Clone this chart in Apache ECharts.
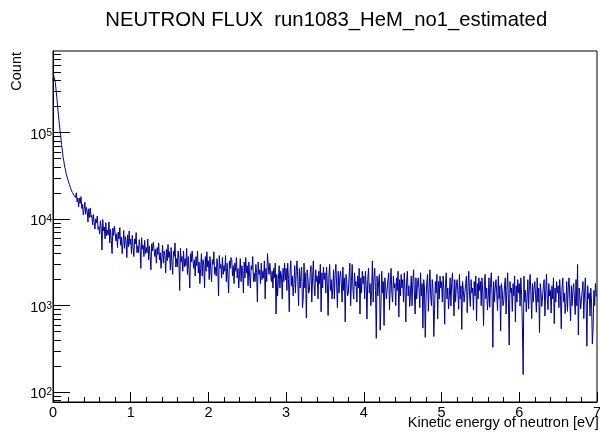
<!DOCTYPE html>
<html><head><meta charset="utf-8">
<script src="https://cdn.jsdelivr.net/npm/echarts@6/dist/echarts.min.js"></script>
<style>html,body{margin:0;padding:0;background:#fff}#c{width:600px;height:434px}</style>
</head><body><div id="c"></div>
<script>
const titleText = 'NEUTRON FLUX  run1083_HeM_no1_estimated';
const xTitle = 'Kinetic energy of neutron [eV]';
const yTitle = 'Count';
const binWidth = 0.01;
const xMin = 0, xMax = 7;
const yMin = 77, yMax = 8.8e5;
const yMajorTicks = [100, 1000, 10000, 100000];
const yMinorTicks = [80, 90,
  200, 300, 400, 500, 600, 700, 800, 900,
  2000, 3000, 4000, 5000, 6000, 7000, 8000, 9000,
  20000, 30000, 40000, 50000, 60000, 70000, 80000, 90000,
  200000, 300000, 400000, 500000, 600000, 700000, 800000];
const counts = [
  400000, 452000, 438000, 381000, 309000, 252000, 198000, 161000, 129000, 107000,
  91000, 73000, 63000, 52000, 46500, 40200, 37800, 33100, 32200, 29000,
  28400, 25300, 25100, 22400, 22900, 20300, 21000, 18900, 19400, 17800,
  20200, 15900, 17600, 13900, 17600, 15200, 18200, 13300, 14800, 11200,
  13000, 15700, 11400, 13700, 12400, 9300, 13200, 10500, 13500, 10500,
  11100, 8600, 11300, 9100, 7700, 10100, 9100, 10900, 7600, 8200,
  6800, 9600, 7900, 4400, 9900, 7300, 8100, 5900, 9100, 6400,
  7500, 6600, 9300, 5300, 7700, 5700, 4000, 7900, 6500, 8300,
  7900, 5600, 6800, 4700, 7100, 5900, 8000, 5000, 6200, 4000,
  5300, 7400, 4600, 6300, 5600, 3600, 6600, 4800, 7300, 5100,
  5900, 4000, 6500, 4800, 3700, 5900, 5200, 7000, 4100, 4900,
  4100, 5800, 4800, 2700, 6100, 4500, 5000, 3700, 5700, 4000,
  4700, 4100, 5900, 3400, 4900, 3700, 2600, 5200, 4300, 5400,
  5200, 3700, 4500, 3100, 4700, 3900, 5300, 3400, 4100, 2700,
  3600, 5000, 3100, 4300, 3800, 2400, 4500, 3300, 5100, 3600,
  4200, 2600, 4700, 3200, 2300, 4300, 3700, 5300, 2800, 3500,
  2800, 4300, 3400, 1500, 4600, 3200, 3700, 2500, 4300, 2800,
  3500, 2900, 4600, 2300, 3700, 2600, 1600, 4000, 3200, 4300,
  4100, 2700, 3400, 2200, 3700, 2900, 4300, 2400, 3200, 1800,
  2700, 4000, 2200, 3400, 2900, 1600, 3700, 2500, 4200, 2800,
  3300, 2000, 3700, 2600, 1900, 3400, 3000, 4200, 2300, 2800,
  2200, 3500, 2800, 1300, 3800, 2700, 3000, 2100, 3600, 2300,
  2900, 2500, 3800, 1900, 3100, 2200, 1400, 3300, 2700, 3600,
  3400, 2200, 2900, 1800, 3100, 2500, 3600, 2100, 2700, 1600,
  2300, 3500, 1900, 2900, 2500, 1400, 3200, 2100, 3600, 2400,
  2900, 1700, 3200, 2200, 1600, 2900, 2600, 3700, 1900, 2400,
  1900, 3000, 2400, 1100, 3200, 2300, 2600, 1800, 3100, 2000,
  2500, 2100, 3300, 1200, 2700, 1900, 4000, 2900, 2300, 3100,
  3000, 1900, 2500, 1600, 2700, 2100, 3100, 800, 2300, 1300,
  2000, 2900, 1600, 2500, 2200, 1200, 2700, 1900, 3100, 2000,
  2700, 1500, 3100, 2000, 850, 2400, 3300, 1700, 2200, 1300,
  1800, 2900, 1400, 2500, 3300, 1900, 1000, 2700, 1600, 2300,
  2800, 950, 1200, 3100, 1600, 2400, 720, 2600, 2100, 1400,
  1500, 2400, 2900, 1100, 2100, 3300, 1700, 1300, 2600, 1900,
  2200, 1200, 2500, 1800, 3000, 850, 2400, 1600, 2800, 2000,
  2400, 1400, 2800, 1800, 770, 2200, 3000, 1500, 2000, 1200,
  1600, 2600, 1200, 2300, 3000, 1700, 950, 2500, 1400, 2100,
  2500, 1800, 1100, 2800, 1500, 2100, 650, 2300, 1900, 1300,
  1400, 2200, 3100, 1000, 1900, 3000, 1500, 1200, 2400, 1700,
  1900, 1100, 2200, 1600, 2700, 800, 2100, 1400, 2500, 1800,
  2200, 1200, 2500, 1700, 700, 2000, 2700, 1400, 1800, 1000,
  1500, 3300, 1100, 2100, 2700, 1500, 420, 2200, 1300, 1900,
  2300, 520, 1000, 2500, 1400, 1900, 590, 2100, 1700, 1200,
  1200, 2000, 2400, 900, 1700, 2700, 1400, 1100, 2200, 1600,
  1800, 1000, 2100, 1500, 2500, 740, 2000, 1300, 2300, 1600,
  2000, 1100, 2400, 1500, 650, 1900, 2500, 1300, 1700, 980,
  1400, 2200, 1000, 1900, 2600, 1400, 800, 2100, 1200, 1800,
  2100, 1500, 950, 2400, 1300, 1800, 550, 2000, 1600, 430,
  1200, 1900, 2300, 860, 1600, 2600, 1300, 1000, 2000, 1500,
  440, 930, 1900, 1400, 2300, 700, 1900, 1200, 2200, 1600,
  1900, 1100, 2200, 1500, 610, 1800, 2400, 1200, 1600, 920,
  1300, 2100, 990, 1800, 2400, 1400, 760, 2000, 1100, 1700,
  2000, 1400, 910, 2300, 1200, 1700, 530, 1900, 1500, 1100,
  1100, 1800, 2200, 830, 1600, 2500, 1300, 980, 2000, 1400,
  1600, 890, 1900, 1300, 2200, 670, 1800, 1200, 2100, 1500,
  1900, 1000, 2100, 1400, 590, 1700, 2300, 1200, 1600, 890,
  1200, 2100, 960, 1800, 2400, 1300, 330, 1900, 1100, 1600,
  2000, 1400, 880, 2200, 1200, 1700, 510, 1800, 1500, 1000,
  1100, 1700, 2100, 800, 1500, 2400, 1200, 350, 1900, 1400,
  1600, 860, 1800, 1300, 2200, 650, 1700, 1100, 2000, 1400,
  1800, 990, 2100, 1300, 570, 160, 2200, 1100, 1500, 850,
  1200, 2000, 920, 1700, 2300, 1300, 710, 1800, 1100, 1600,
  1900, 1300, 840, 2100, 1100, 1600, 490, 1800, 1400, 980,
  1000, 1700, 2000, 760, 1500, 2300, 1200, 900, 1800, 1300,
  1500, 820, 1700, 1200, 2100, 620, 1600, 1100, 1900, 1400,
  1700, 950, 2000, 1300, 540, 1600, 2100, 1100, 1400, 810,
  1100, 1900, 860, 1600, 2100, 1200, 670, 1700, 1000, 1500,
  1800, 1200, 790, 2000, 1000, 3000, 460, 1600, 1300, 920,
  970, 1500, 1900, 710, 1400, 2100, 1100, 340, 1700, 1200,
  1400, 760, 1600, 1100, 360, 570, 1500, 1000, 1800, 1300
];

const FONT = 'Liberation Sans';
const data = counts.map((v, i) => [xMin + i * binWidth, v]);
data.push([xMax, counts[counts.length - 1]]);

const chart = echarts.init(document.getElementById('c'), null, {renderer: 'canvas'});
chart.setOption({
  animation: false,
  backgroundColor: '#fff',
  title: [{
    text: titleText, left: 105.3, top: 10.5, padding: 0,
    textStyle: {fontFamily: FONT, fontSize: 20.3, fontWeight: 'normal', color: '#000'}
  }, {
    text: xTitle, right: 1.2, top: 415.8, padding: 0,
    textStyle: {fontFamily: FONT, fontSize: 14.5, fontWeight: 'normal', color: '#000'}
  }],
  grid: {
    left: 53, right: 3, top: 51, bottom: 32,
    show: true, borderColor: '#000', borderWidth: 1,
    containLabel: false, outerBoundsMode: 'none'
  },
  xAxis: {
    type: 'value', min: xMin, max: xMax, interval: 1,
    axisLine: {show: true, onZero: false, lineStyle: {color: '#000', width: 1}},
    axisTick: {show: true, inside: true, length: 10, lineStyle: {color: '#000'}},
    minorTick: {show: true, splitNumber: 5, length: 5, lineStyle: {color: '#000'}},
    axisLabel: {fontFamily: FONT, fontSize: 14.5, color: '#000', margin: 3},
    splitLine: {show: false}, minorSplitLine: {show: false}
  },
  yAxis: [{
    type: 'log', logBase: 10, position: 'left', min: yMin, max: yMax,
    name: yTitle, nameLocation: 'end', nameGap: -1, nameRotate: 90,
    nameTextStyle: {fontFamily: FONT, fontSize: 14.5, color: '#000', align: 'right', verticalAlign: 'bottom', padding: [0, 0, 29, 0]},
    axisLine: {show: true, onZero: false, lineStyle: {color: '#000', width: 1}},
    axisTick: {show: true, inside: true, length: 17, customValues: yMajorTicks, lineStyle: {color: '#000'}},
    axisLabel: {
      customValues: yMajorTicks, margin: 1, color: '#000', padding: [5, 0, 0, 0],
      formatter: v => '{a|10}{b|' + Math.round(Math.log10(v)) + '}',
      rich: {
        a: {fontFamily: FONT, fontSize: 14.5, color: '#000', lineHeight: 14, verticalAlign: 'bottom'},
        b: {fontFamily: FONT, fontSize: 10, color: '#000', lineHeight: 6, verticalAlign: 'top'}
      }
    },
    splitLine: {show: false}
  }, {
    type: 'log', logBase: 10, position: 'left', min: yMin, max: yMax,
    axisLine: {show: false},
    axisTick: {show: true, inside: true, length: 8, customValues: yMinorTicks, lineStyle: {color: '#000'}},
    axisLabel: {show: false},
    splitLine: {show: false}
  }],
  series: [{
    type: 'line', data: data, step: 'end', symbol: 'none', showSymbol: false,
    yAxisIndex: 0, lineStyle: {color: '#000099', width: 1}, clip: true
  }]
});
</script></body></html>
